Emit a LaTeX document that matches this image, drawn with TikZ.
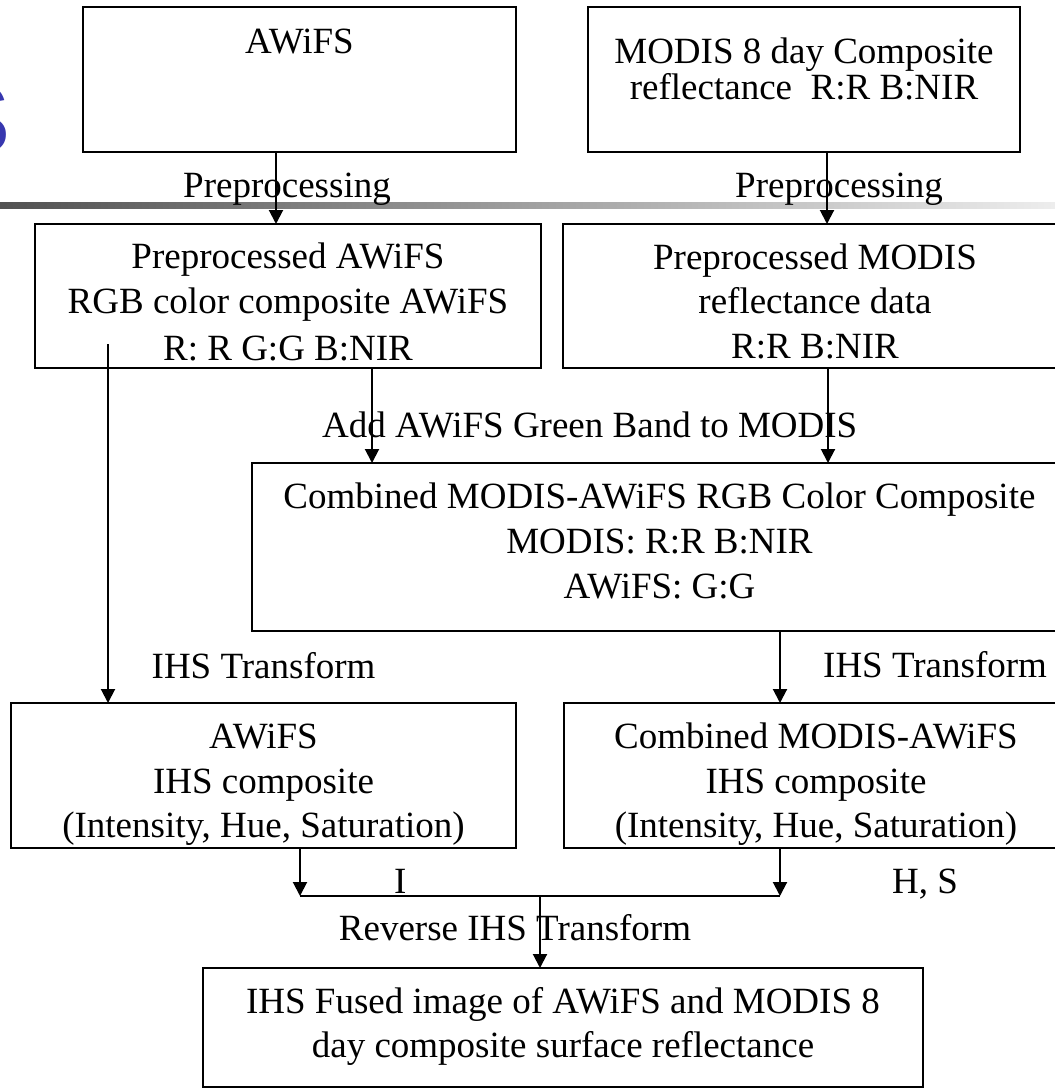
\documentclass[tikz,border=0pt]{standalone}
\usepackage{fontspec}
\setmainfont{Liberation Serif}
\newfontfamily\sfontS{Liberation Sans}
\usetikzlibrary{arrows.meta}
\definecolor{sblue}{RGB}{55,55,175}
\begin{document}
\begin{tikzpicture}[x=1pt,y=-1pt,
  box/.style={draw=black,line width=2.5pt,fill=white,rectangle,inner sep=0pt,outer sep=0pt},
  txt/.style={anchor=base,inner sep=0pt,font=\fontsize{37}{45}\selectfont},
  lbl/.style={anchor=base west,inner sep=0pt,font=\fontsize{37}{45}\selectfont},
  arr/.style={line width=2pt,-{Triangle[length=14pt,width=14pt]}},
  ln/.style={line width=2pt}]
\useasboundingbox (0,0) rectangle (1055,1088);
% slide background fragments
\shade[left color=black!68,right color=black!7] (0,202.5) rectangle (1055,208.5);
\node[anchor=base east,inner sep=0pt,text=sblue,font=\sfontS\fontsize{98}{98}\selectfont] (sglyph) at (11,153) {S};
% boxes
\node[box,minimum width=433pt,minimum height=145pt] (b1) at (299.5,79.5) {};
\node[box,minimum width=432pt,minimum height=145pt] (b2) at (804,79.5) {};
\node[box,minimum width=506pt,minimum height=144pt] (b3) at (288,296) {};
\node[box,minimum width=504pt,minimum height=144pt] (b4) at (815,296) {};
\node[box,minimum width=815pt,minimum height=168pt] (b5) at (659.5,547) {};
\node[box,minimum width=505pt,minimum height=145pt] (b6) at (263.5,775.5) {};
\node[box,minimum width=504pt,minimum height=145pt] (b7) at (816,775.5) {};
\node[box,minimum width=720pt,minimum height=119pt] (b8) at (563,1027.5) {};
% box texts
\node[txt] (t1) at (299.5,53) {AWiFS};
\node[txt] (t2a) at (804,63) {MODIS 8 day Composite};
\node[txt] (t2b) at (804,99) {reflectance\ \ R:R B:NIR};
\node[txt] (t3a) at (288,268) {Preprocessed AWiFS};
\node[txt] (t3b) at (288,313) {RGB color composite AWiFS};
\node[txt] (t3c) at (288,360) {R: R G:G B:NIR};
\node[txt] (t4a) at (815,269) {Preprocessed MODIS};
\node[txt] (t4b) at (815,313) {reflectance data};
\node[txt] (t4c) at (815,358) {R:R B:NIR};
\node[txt] (t5a) at (659.5,508) {Combined MODIS-AWiFS RGB Color Composite};
\node[txt] (t5b) at (659.5,553) {MODIS: R:R B:NIR};
\node[txt] (t5c) at (659.5,598) {AWiFS: G:G};
\node[txt] (t6a) at (263.5,748) {AWiFS};
\node[txt] (t6b) at (263.5,793) {IHS composite};
\node[txt] (t6c) at (263.5,837) {(Intensity, Hue, Saturation)};
\node[txt] (t7a) at (816,748) {Combined MODIS-AWiFS};
\node[txt] (t7b) at (816,793) {IHS composite};
\node[txt] (t7c) at (816,837) {(Intensity, Hue, Saturation)};
\node[txt] (t8a) at (563,1013) {IHS Fused image of AWiFS and MODIS 8};
\node[txt] (t8b) at (563,1057) {day composite surface reflectance};
% connector labels
\node[txt] (l1) at (287,197) {Preprocessing};
\node[txt] (l2) at (839,197) {Preprocessing};
\node[lbl] (l3) at (322,437) {Add AWiFS Green Band to MODIS};
\node[lbl] (l4) at (151.5,678) {IHS Transform};
\node[lbl] (l5) at (823,677) {IHS Transform};
\node[lbl] (l6) at (394,893) {I};
\node[lbl] (l7) at (892,893) {H, S};
\node[txt] (l8) at (515,940) {Reverse IHS Transform};
% connectors
\coordinate (s5) at (108,344);
\coordinate (j1) at (300,896);
\coordinate (j2) at (780,896);
\coordinate (jm) at (540,896);
\draw[arr] (b1.south -| 276,0) -- (b3.north -| 276,0);
\draw[arr] (b2.south -| 827,0) -- (b4.north -| 827,0);
\draw[arr] (b3.south -| 372,0) -- (b5.north -| 372,0);
\draw[arr] (b4.south -| 828,0) -- (b5.north -| 828,0);
\draw[arr] (s5) -- (b6.north -| s5);
\draw[arr] (b5.south -| 780,0) -- (b7.north -| 780,0);
\draw[arr] (b6.south -| j1) -- (j1);
\draw[arr] (b7.south -| j2) -- (j2);
\draw[ln] (j1) -- (j2);
\draw[arr] (jm) -- (b8.north -| jm);
\end{tikzpicture}
\end{document}
